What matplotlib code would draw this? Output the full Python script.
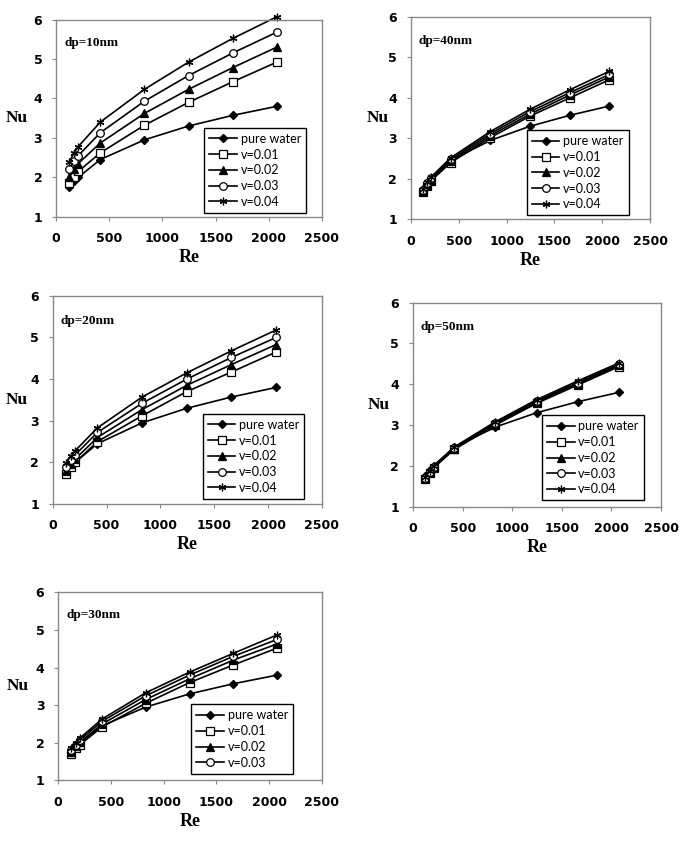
import matplotlib.pyplot as plt

re = [125, 166, 208, 415, 830, 1245, 1660, 2075]

water = [1.75, 1.9, 2.0, 2.45, 2.95, 3.3, 3.57, 3.8]

nu_10 = {
    "v=0.01": [1.85, 2.0, 2.15, 2.62, 3.32, 3.9, 4.42, 4.92],
    "v=0.02": [2.0, 2.2, 2.35, 2.87, 3.62, 4.23, 4.78, 5.3],
    "v=0.03": [2.2, 2.42, 2.55, 3.13, 3.93, 4.58, 5.15, 5.68],
    "v=0.04": [2.4, 2.62, 2.78, 3.4, 4.23, 4.92, 5.52, 6.07],
}
nu_20 = {
    "v=0.01": [1.72, 1.88, 2.0, 2.5, 3.12, 3.7, 4.17, 4.65],
    "v=0.02": [1.8, 1.95, 2.08, 2.6, 3.27, 3.85, 4.35, 4.83],
    "v=0.03": [1.88, 2.05, 2.18, 2.72, 3.42, 4.0, 4.52, 5.0],
    "v=0.04": [1.98, 2.15, 2.28, 2.83, 3.57, 4.15, 4.68, 5.18],
}
nu_30 = {
    "v=0.01": [1.7, 1.85, 1.95, 2.42, 3.05, 3.6, 4.07, 4.52],
    "v=0.02": [1.75, 1.9, 2.02, 2.5, 3.15, 3.7, 4.2, 4.63],
    "v=0.03": [1.8, 1.95, 2.08, 2.57, 3.25, 3.8, 4.3, 4.75],
    "v=0.04": [1.85, 2.0, 2.13, 2.63, 3.33, 3.88, 4.38, 4.87],
}
nu_40 = {
    "v=0.01": [1.68, 1.83, 1.95, 2.4, 3.02, 3.55, 4.0, 4.45],
    "v=0.02": [1.7, 1.86, 1.98, 2.44, 3.07, 3.6, 4.07, 4.52],
    "v=0.03": [1.73, 1.89, 2.01, 2.48, 3.12, 3.66, 4.13, 4.58],
    "v=0.04": [1.76, 1.92, 2.04, 2.52, 3.17, 3.72, 4.2, 4.66],
}
nu_50 = {
    "v=0.01": [1.68, 1.83, 1.95, 2.4, 3.0, 3.53, 3.98, 4.43],
    "v=0.02": [1.69, 1.85, 1.97, 2.42, 3.03, 3.56, 4.01, 4.46],
    "v=0.03": [1.7, 1.86, 1.98, 2.44, 3.05, 3.59, 4.04, 4.49],
    "v=0.04": [1.72, 1.88, 2.0, 2.46, 3.08, 3.62, 4.08, 4.52],
}

styles = {
    "v=0.01": dict(marker="s", mfc="white"),
    "v=0.02": dict(marker="^", mfc="black"),
    "v=0.03": dict(marker="o", mfc="white"),
    "v=0.04": dict(marker=(6, 2, 0), mfc="black"),
}

# (title, data, axes rect, legend anchor, labelled series, Nu label x in axes coords)
panels = [
    ("dp=10nm", nu_10, [0.082, 0.745, 0.388, 0.232], (0.94, 0.02), 4, -0.15),
    ("dp=40nm", nu_40, [0.600, 0.742, 0.349, 0.238], (0.91, 0.02), 4, -0.14),
    ("dp=20nm", nu_20, [0.077, 0.407, 0.393, 0.245], (0.935, 0.025), 4, -0.135),
    ("dp=50nm", nu_50, [0.603, 0.404, 0.362, 0.240], (0.93, 0.03), 4, -0.14),
    ("dp=30nm", nu_30, [0.085, 0.082, 0.385, 0.221], (0.89, 0.035), 3, -0.155),
]

fig = plt.figure(figsize=(6.85, 8.5), dpi=100)

for title, data, rect, anchor, nlab, nu_x in panels:
    ax = fig.add_axes(rect)
    ax.plot(re, water, color="black", lw=1.2, marker="D", ms=4.5,
            mfc="black", mec="black", label="pure water", clip_on=False)
    for i, (name, vals) in enumerate(data.items()):
        st = styles[name]
        lab = name if i < nlab else None
        ax.plot(re, vals, color="black", lw=1.2, marker=st["marker"], ms=5.5,
                mfc=st["mfc"], mec="black", mew=0.9, label=lab, clip_on=False)
    ax.set_xlim(0, 2500)
    ax.set_ylim(1, 6)
    ax.set_xticks([0, 500, 1000, 1500, 2000, 2500])
    ax.set_yticks([1, 2, 3, 4, 5, 6])
    for sp in ax.spines.values():
        sp.set_color("#888888")
        sp.set_linewidth(1)
    ax.tick_params(direction="out", length=3, color="#888888")
    ax.tick_params(axis="x", pad=8)
    ax.tick_params(axis="y", pad=7)
    for lbl in ax.get_xticklabels() + ax.get_yticklabels():
        lbl.set_fontweight("bold")
        lbl.set_fontsize(9)
        lbl.set_family("DejaVu Sans")
    ax.set_xlabel("Re", family="Liberation Serif", fontweight="bold", fontsize=13, labelpad=3)
    ax.set_ylabel("Nu", family="Liberation Serif", fontweight="bold", fontsize=12.5,
                  rotation=0, va="center", ha="center")
    ax.yaxis.set_label_coords(nu_x, 0.5)
    ax.text(0.03, 0.88, title, transform=ax.transAxes, family="Liberation Serif",
            fontweight="bold", fontsize=9.5, va="center")
    leg = ax.legend(loc="lower right", bbox_to_anchor=anchor, fancybox=False,
                    edgecolor="black", framealpha=1, handlelength=2.2,
                    borderaxespad=0, prop={"family": "Lato", "size": 9},
                    labelspacing=0.3, handletextpad=0.3, borderpad=0.4)
    leg.get_frame().set_linewidth(1)

plt.savefig("out.png", dpi=100)
